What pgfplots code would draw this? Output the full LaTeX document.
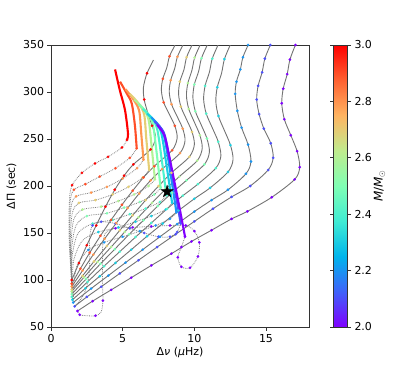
\documentclass[border=0pt]{standalone}
\usepackage{fontspec}
\setmainfont{DejaVu Sans}
\usepackage{pgfplots}
\pgfplotsset{compat=1.18}
\definecolor{m20}{rgb}{0.5,0,1}
\definecolor{m21}{rgb}{0.3,0.309,0.988}
\definecolor{m22}{rgb}{0.1,0.588,0.951}
\definecolor{m23}{rgb}{0.1,0.809,0.891}
\definecolor{m24}{rgb}{0.3,0.951,0.809}
\definecolor{m25}{rgb}{0.5,1,0.707}
\definecolor{m26}{rgb}{0.7,0.951,0.588}
\definecolor{m27}{rgb}{0.9,0.809,0.454}
\definecolor{m28}{rgb}{1,0.588,0.309}
\definecolor{m29}{rgb}{1,0.309,0.156}
\definecolor{m30}{rgb}{1,0,0}
\pgfdeclareplotmark{bigstar}{%
  \pgfpathmoveto{\pgfpointpolar{90}{\pgfplotmarksize}}%
  \pgfpathlineto{\pgfpointpolar{126}{0.382\pgfplotmarksize}}%
  \pgfpathlineto{\pgfpointpolar{162}{\pgfplotmarksize}}%
  \pgfpathlineto{\pgfpointpolar{198}{0.382\pgfplotmarksize}}%
  \pgfpathlineto{\pgfpointpolar{234}{\pgfplotmarksize}}%
  \pgfpathlineto{\pgfpointpolar{270}{0.382\pgfplotmarksize}}%
  \pgfpathlineto{\pgfpointpolar{306}{\pgfplotmarksize}}%
  \pgfpathlineto{\pgfpointpolar{342}{0.382\pgfplotmarksize}}%
  \pgfpathlineto{\pgfpointpolar{18}{\pgfplotmarksize}}%
  \pgfpathlineto{\pgfpointpolar{54}{0.382\pgfplotmarksize}}%
  \pgfpathclose\pgfusepathqfillstroke}
\pgfplotsset{
  trk/.style={black!55, line width=0.9bp, smooth, tension=0.5, mark=*, mark size=1.3bp,
    mark options={solid, draw=#1, fill=#1, line width=0.1bp}},
  dtrk/.style={gray, line width=0.8bp, densely dotted, smooth, tension=0.5, mark=*, mark size=1.3bp,
    mark options={solid, draw=#1, fill=#1, line width=0.1bp}},
  band/.style={#1, line width=2.1bp, smooth, tension=0.5, no marks},
}
\begin{document}
\begin{tikzpicture}
\path[use as bounding box] (-51bp,-47bp) rectangle (364bp,327bp);
\begin{axis}[
  at={(0,0)}, anchor=south west,
  scale only axis, width=258bp, height=282bp,
  xmin=0, xmax=18, ymin=50, ymax=350,
  xtick={0,5,10,15}, ytick={50,100,...,350},
  tick align=outside, tick pos=left, major tick length=3.5bp,
  axis line style={black!80, line width=0.8bp},
  every tick/.style={black!80, line width=0.8bp},
  /pgf/number format/assume math mode=true,
  tick label style={font=\fontsize{11}{13}\selectfont},
  label style={font=\fontsize{11}{13}\selectfont},
  xlabel={Δ\textit{ν} (\textit{μ}Hz)},
  ylabel={ΔΠ (sec)},
  xlabel style={yshift=2bp},
  colormap={mplrainbow}{rgb=(0.5,0,1) rgb=(0.25,0.383,0.981) rgb=(0,0.707,0.924) rgb=(0.25,0.924,0.831) rgb=(0.5,1,0.707) rgb=(0.75,0.924,0.556) rgb=(1,0.707,0.383) rgb=(1,0.383,0.195) rgb=(1,0,0)},
  point meta min=2, point meta max=3,
  colorbar,
  colorbar style={
    at={(parent axis.north east)}, anchor=north west, xshift=16bp,
    scale only axis, width=14bp, height=282bp,
    ytick={2,2.2,2.4,2.6,2.8,3.0},
    yticklabel style={font=\fontsize{11}{13}\selectfont, /pgf/number format/.cd, fixed, fixed zerofill, precision=1, assume math mode=true},
    ylabel style={font=\fontsize{12}{14}\selectfont},
    ylabel shift=-5bp,
    tick align=outside, major tick length=3.5bp,
    axis line style={black!80, line width=0.8bp},
    every tick/.style={black!80, line width=0.8bp},
    ylabel={\textit{M}/\textit{M}$_{\odot}$},
  },
]
% dotted tracks
\addplot[dtrk=m30, mark indices={1,2,3,4,5,6}] coordinates {(5.3,249) (4.95,241) (3.98,231) (3.07,224) (2.16,214) (1.47,201) (1.3,188) (1.25,160) (1.3,130) (1.45,100)};
\addplot[dtrk=m29, mark indices={1,2,3,4,5,6}] coordinates {(5.98,240) (5.5,230) (4.5,219) (3.4,210) (2.4,202) (1.6,196) (1.35,185) (1.3,160) (1.35,125) (1.45,96)};
\addplot[dtrk=m28, mark indices={1,2,3,4,5,6}] coordinates {(6.45,228) (6.0,219) (5.0,208) (3.9,199) (2.8,193) (1.75,189) (1.4,178) (1.3,150) (1.38,120) (1.45,93)};
\addplot[dtrk=m27, mark indices={1,2,3,4,5,6}] coordinates {(6.85,217) (6.4,209) (5.4,199) (4.3,191) (3.1,185) (1.95,182) (1.5,172) (1.35,145) (1.4,115) (1.45,90)};
\addplot[dtrk=m26, mark indices={1,2,3,4,5,6}] coordinates {(7.25,207) (6.8,200) (5.8,191) (4.7,184) (3.5,178) (2.2,175) (1.6,165) (1.4,140) (1.42,112) (1.45,88)};
\addplot[dtrk=m25, mark indices={1,2,3,4,5,6}] coordinates {(7.65,198) (7.2,191) (6.2,183) (5.1,177) (3.9,171) (2.5,168) (1.75,158) (1.45,135) (1.43,108) (1.45,85)};
\addplot[dtrk=m24, mark indices={1,2,3,4,5,6}] coordinates {(8.05,190) (7.6,183) (6.6,176) (5.5,170) (4.3,164) (2.9,160) (1.9,150) (1.5,128) (1.45,104) (1.45,82)};
\addplot[dtrk=m23, mark indices={1,2,3,4,5,6}] coordinates {(8.45,182) (8.0,175) (7.0,168) (5.9,162) (4.7,156) (3.3,151) (2.2,142) (1.6,122) (1.5,100) (1.5,79)};
\addplot[dtrk=m22, mark indices={1,2,3,4,5,6,7}] coordinates {(8.75,172) (8.3,165) (7.3,158) (6.2,152) (5.0,146) (3.7,140) (2.6,132) (1.8,115) (1.6,95) (1.55,76)};
\addplot[dtrk=m21, mark indices={1,2,3,4,5,6,7,8,9}] coordinates {(9.05,160) (8.8,151) (8.3,146) (7.5,146) (6.5,150) (5.5,155) (4.5,160) (3.5,162) (2.9,158) (2.7,145) (2.7,120) (2.6,100) (2.3,85) (1.9,76) (1.65,72)};
\addplot[dtrk=m20, mark indices={1,2,3,4,5,6,7,8,9,10,11,12,13,18,20,22}] coordinates {(9.35,146) (9.1,135) (8.85,124) (9.1,114) (9.7,113) (10.25,125) (10.35,140) (10.0,152) (9.4,158) (8.3,158) (7.0,157) (5.7,156) (4.5,155) (3.8,150) (3.6,135) (3.6,115) (3.6,95) (3.62,78) (3.5,66) (3.1,62) (2.5,62) (2.0,63) (1.85,67)};
% solid tracks
\addplot[trk=m20] coordinates {(1.85,67) (2.9,77.5) (4.2,89.5) (5.6,102.5) (7.0,115.5) (8.4,128) (9.8,141) (11.2,153) (12.6,165) (13.7,173) (15.4,188) (17.0,207) (17.35,220) (17.17,237) (16.73,254) (16.28,271) (16.1,288) (16.2,303.5) (16.48,319) (16.67,334.5) (17.05,350) (17.3,360)};
\addplot[trk=m21] coordinates {(1.65,72) (2.5,82) (3.5,92.8) (4.8,107) (6.1,121) (7.4,135) (8.7,148.7) (10.0,162.3) (11.3,175.8) (12.6,188.4) (13.9,200) (15.15,217) (15.5,230) (15.33,245.5) (14.85,261) (14.52,276.5) (14.35,292) (14.45,306.5) (14.73,321) (14.92,335.5) (15.3,350) (15.55,360)};
\addplot[trk=m22] coordinates {(1.55,76) (2.8,90.9) (4.0,104.7) (5.2,118.5) (6.4,132.3) (7.6,146) (8.8,159.5) (10.0,172.8) (11.2,185) (12.35,196) (13.6,213) (13.95,226) (13.75,244) (13.3,262) (13.0,280) (12.85,298) (12.94,311) (13.21,324) (13.39,337) (13.75,350) (14.0,360)};
\addplot[trk=m23, mark indices={1,2,3,4,5,6,7,8,9,10,11,13,15,17,19}] coordinates {(1.5,79) (2.4,91.2) (3.4,104) (4.5,118.2) (5.6,132.3) (6.7,146.5) (7.8,160.1) (8.9,173.8) (10.0,186.4) (11.1,198) (12.35,215) (12.7,228) (12.52,243.5) (12.1,259) (11.68,274.5) (11.5,290) (11.6,305) (11.9,320) (12.1,335) (12.5,350) (12.75,360)};
\addplot[trk=m24, mark indices={1,2,3,4,5,6,7,8,9,10,12,14,16,18}] coordinates {(1.45,82) (2.55,98) (3.7,114.7) (4.8,130.2) (5.9,145.7) (7.0,160.7) (8.1,175.7) (9.2,189.7) (10.25,202) (11.5,219) (11.85,232) (11.67,247) (11.25,262) (10.83,277) (10.65,292) (10.75,306.5) (11.05,321) (11.25,335.5) (11.65,350) (11.9,360)};
\addplot[trk=m25, mark indices={1,2,3,4,5,6,7,8,9,10,12,14,16,18}] coordinates {(1.45,85) (2.45,101.1) (3.45,117.2) (4.45,132.8) (5.45,148.5) (6.45,163.6) (7.45,178.7) (8.45,192.8) (9.45,206) (10.7,223) (11.05,236) (10.88,250.5) (10.48,265) (10.07,279.5) (9.9,294) (10.0,308) (10.3,322) (10.5,336) (10.9,350) (11.15,360)};
\addplot[trk=m26, mark indices={1,2,3,4,5,6,7,8,9,10,12,14,16,18}] coordinates {(1.45,88) (2.3,102.8) (3.25,119.3) (4.2,135.2) (5.15,151.2) (6.1,166.7) (7.05,182.1) (8.0,196.6) (8.95,210) (10.2,227) (10.55,240) (10.39,254) (10.0,268) (9.61,282) (9.45,296) (9.55,309.5) (9.83,323) (10.02,336.5) (10.4,350) (10.65,360)};
\addplot[trk=m27, mark indices={1,2,3,4,5,6,7,8,9,10,12,14,16,18}] coordinates {(1.45,90) (2.2,104.4) (3.0,119.7) (3.9,136.2) (4.8,152.8) (5.7,168.8) (6.6,184.9) (7.5,199.9) (8.4,214) (9.65,231) (10.0,244) (9.84,257.5) (9.45,271) (9.06,284.5) (8.9,298) (8.99,311) (9.28,324) (9.46,337) (9.84,350) (10.1,360)};
\addplot[trk=m28, mark indices={1,2,3,4,5,6,7,8,9,10,12,14,16,18}] coordinates {(1.45,93) (2.2,110) (2.95,127) (3.75,144) (4.55,160.5) (5.35,176.5) (6.15,192) (6.95,206) (7.75,218) (9.0,235) (9.35,248) (9.19,261) (8.8,274) (8.41,287) (8.25,300) (8.35,312.5) (8.63,325) (8.82,337.5) (9.2,350) (9.45,360)};
\addplot[trk=m29, mark indices={1,2,3,4,5,6,7,8,9,10,12,14,16,18}] coordinates {(1.45,96) (2.05,112) (2.7,129) (3.45,147) (4.2,164) (4.95,180) (5.7,195) (6.45,209) (7.2,221) (8.45,238) (8.8,251) (8.64,264) (8.25,276.5) (7.86,289) (7.7,302) (7.8,314) (8.08,326) (8.27,338) (8.65,350) (8.9,360)};
\addplot[trk=m30, mark indices={1,2,3,4,5,6,7,8,9,11,13,15}] coordinates {(1.45,100) (1.95,118) (2.5,137) (3.15,158) (3.8,178) (4.45,196) (5.1,211) (5.75,223) (6.95,239) (7.3,252) (7.05,264) (6.75,278) (6.5,292) (6.45,305) (6.7,320) (7.15,334)};
% dense bands
\addplot[band=m30] coordinates {(4.47,324) (4.8,302) (5.16,281) (5.37,256) (5.3,249)};
\addplot[band=m29] coordinates {(4.82,311) (5.3,298) (5.63,288) (5.85,265) (5.98,240)};
\addplot[band=m28] coordinates {(5.2,303) (5.75,292) (6.15,280) (6.3,255) (6.45,228)};
\addplot[band=m27] coordinates {(5.5,298) (6.1,288) (6.5,276) (6.65,250) (6.85,217)};
\addplot[band=m26] coordinates {(5.8,292) (6.4,283) (6.8,271) (7.0,245) (7.25,207)};
\addplot[band=m25] coordinates {(6.1,287) (6.7,278) (7.1,266) (7.35,238) (7.65,198)};
\addplot[band=m24] coordinates {(6.4,282) (7.0,273) (7.4,261) (7.7,231) (8.05,190)};
\addplot[band=m23] coordinates {(6.7,277) (7.3,268) (7.7,256) (8.05,223) (8.45,182)};
\addplot[band=m22] coordinates {(7.0,273) (7.55,264) (7.9,253) (8.35,212) (8.75,172)};
\addplot[band=m21] coordinates {(7.2,269) (7.7,261) (8.0,250) (8.6,200) (9.05,160)};
\addplot[band=m20] coordinates {(7.4,265) (7.8,257) (8.05,246) (8.8,190) (9.35,146)};
% star
\addplot[only marks, mark=bigstar, mark size=6.5bp, mark options={fill=black, draw=black, line width=0.3bp}] coordinates {(8.1,194)};
\end{axis}
\end{tikzpicture}
\end{document}
